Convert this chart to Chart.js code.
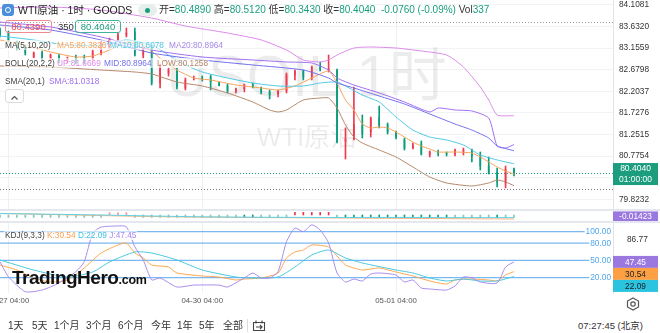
<!DOCTYPE html>
<html>
<head>
<meta charset="utf-8">
<title>WTI原油 · 1时</title>
<script src="https://cdn.jsdelivr.net/npm/chart.js@4.4.1/dist/chart.umd.min.js"></script>
<style>
  body { margin:0; width:660px; height:333px; overflow:hidden; background:#fff; position:relative;
         font-family:"Liberation Sans", Arial, "Noto Sans CJK SC", sans-serif; color:#333; }
  canvas { position:absolute; left:0; }
  .t { position:absolute; white-space:nowrap; line-height:12px; }
  .g { color:#1a9e7e; }
  .lg { position:absolute; white-space:nowrap; font-size:8.3px; line-height:10px; background:rgba(255,255,255,.6); padding:0 1px; }
  .band { position:absolute; left:0; width:660px; height:2px; background:#e4e7ee; }
</style>
</head>
<body>
<canvas id="main" width="660" height="210" style="top:0"></canvas>
<canvas id="macd" width="660" height="10" style="top:211px"></canvas>
<canvas id="kdj" width="660" height="86" style="top:223px"></canvas>

<div class="band" style="top:209px"></div>
<div class="band" style="top:221px"></div>

<!-- header -->
<div style="position:absolute;left:2px;top:4px;width:12px;height:12px;border-radius:3px;background:#4b8fdc"></div>
<div style="position:absolute;left:5px;top:7px;width:4px;height:4px;border:1.5px solid #fff;border-radius:50%"></div>
<div class="t" style="left:18px;top:4px;font-size:10.5px;color:#222">WTI原油 · 1时 · GOODS</div>
<div style="position:absolute;left:138px;top:4px;width:19px;height:12px;border-radius:6px;background:#e6efec"></div>
<div style="position:absolute;left:145px;top:7.5px;width:5px;height:5px;border-radius:50%;background:#1a9e7e"></div>
<div class="t" style="left:159px;top:4px;font-size:10px">开=<span class="g">80.4890</span> 高=<span class="g">80.5120</span> 低=<span class="g">80.3430</span> 收=<span class="g">80.4040</span>&nbsp; <span class="g">-0.0760 (-0.09%)</span> Vol<span class="g">337</span></div>

<div class="t" style="left:5px;top:20px;width:45px;height:11px;line-height:11px;border:1px solid #f28b91;border-radius:3px;color:#ef4a55;font-size:9.5px;text-align:center">80.4390</div>
<div class="t" style="left:58px;top:20px;font-size:9.5px;line-height:13px">350</div>
<div class="t" style="left:75px;top:20px;width:44px;height:11px;line-height:11px;border:1px solid #3fb39b;border-radius:3px;color:#1a9e7e;font-size:9.5px;text-align:center">80.4040</div>

<div class="lg" style="left:4px;top:39.5px;color:#444">MA(5,10,20)</div>
<div class="lg" style="left:56px;top:39.5px;color:#f5a35a">MA5:80.3826</div>
<div class="lg" style="left:109px;top:39.5px;color:#4fc8e3">MA10:80.6078</div>
<div class="lg" style="left:168px;top:39.5px;color:#a58be8">MA20:80.8964</div>
<div class="lg" style="left:4px;top:58px;color:#444">BOLL(20,2,2)</div>
<div class="lg" style="left:56px;top:58px;color:#dc8ae8">UP:81.6669</div>
<div class="lg" style="left:103px;top:58px;color:#7470ef">MID:80.8964</div>
<div class="lg" style="left:156px;top:58px;color:#b5876a">LOW:80.1258</div>
<div class="lg" style="left:4px;top:75.5px;color:#444">SMA(20,1)</div>
<div class="lg" style="left:48px;top:75.5px;color:#a06ef2">SMA:81.0318</div>

<div style="position:absolute;left:5px;top:89px;width:17px;height:12px;border:1px solid #dcdcdc;border-radius:3px;background:#fff">
  <svg width="17" height="12"><polyline points="5.5,7.5 8.5,4.5 11.5,7.5" fill="none" stroke="#555" stroke-width="1.2"/></svg>
</div>

<!-- logo -->
<div class="t" style="left:12px;top:268px;font-size:19px;line-height:19px;font-weight:bold;letter-spacing:-0.5px;color:#111">TradingHero<span style="font-size:12.5px;letter-spacing:-0.2px">.com</span></div>

<!-- bottom toolbar -->
<div class="t" style="left:8px;top:320px;font-size:10px">1天</div>
<div class="t" style="left:32px;top:320px;font-size:10px">5天</div>
<div class="t" style="left:54px;top:320px;font-size:10px">1个月</div>
<div class="t" style="left:86px;top:320px;font-size:10px">3个月</div>
<div class="t" style="left:118px;top:320px;font-size:10px">6个月</div>
<div class="t" style="left:151px;top:320px;font-size:10px">今年</div>
<div class="t" style="left:177px;top:320px;font-size:10px">1年</div>
<div class="t" style="left:199px;top:320px;font-size:10px">5年</div>
<div class="t" style="left:223px;top:320px;font-size:10px">全部</div>
<div style="position:absolute;left:247px;top:319px;width:1px;height:13px;background:#ddd"></div>
<svg style="position:absolute;left:252px;top:319px" width="14" height="13">
  <path d="M1.5 3.5 H12.5 V11.5 H1.5 Z M4 1.5 V4.5 M10 1.5 V4.5 M4 8 H10 M8 6 L10 8 L8 10" fill="none" stroke="#444" stroke-width="1.1"/>
</svg>
<div class="t" style="left:578px;top:320px;font-size:9.5px">07:27:45 (北京)</div>
<svg style="position:absolute;left:626px;top:297px" width="14" height="14">
  <polygon points="7,1 12.5,4 12.5,10 7,13 1.5,10 1.5,4" fill="none" stroke="#555" stroke-width="1.2"/>
  <circle cx="7" cy="7" r="2.2" fill="none" stroke="#555" stroke-width="1.2"/>
</svg>

<script>
// ---------------- data ----------------
const open  = [83.557,83.491,83.270,83.182,82.962,83.050,82.918,82.984,82.874,82.962,
               82.962,82.940,83.050,83.204,83.337,83.447,83.513,83.006,83.182,82.389,
               82.609,82.675,82.279,82.477,82.499,82.521,82.389,82.323,82.213,82.257,
               82.345,82.279,82.191,82.147,82.213,82.565,82.653,82.499,82.741,82.675,
               82.675,81.110,81.154,81.463,81.309,81.617,81.463,81.287,81.132,80.956,
               81.044,80.802,80.868,80.846,80.824,80.890,80.912,80.802,80.559,80.427,
               80.185,80.489]
const high  = [83.601,83.535,83.314,83.226,83.072,83.094,83.028,83.028,82.962,83.006,
               83.006,83.116,83.314,83.381,83.491,83.601,83.601,83.182,83.226,82.808,
               82.719,82.719,82.499,82.543,82.543,82.565,82.411,82.367,82.279,82.367,
               82.389,82.301,82.235,82.235,82.609,82.675,82.675,82.764,82.852,83.006,
               82.697,81.400,82.301,81.684,81.639,81.882,81.507,81.331,81.176,81.066,
               81.110,80.890,80.912,80.868,80.934,80.956,80.934,80.868,80.758,80.515,
               80.559,80.512]
const low   = [83.403,83.292,83.116,83.006,82.940,82.874,82.874,82.830,82.830,82.808,
               82.808,82.896,83.006,83.160,83.292,83.403,82.984,82.940,82.345,82.279,
               82.543,82.257,82.235,82.455,82.433,82.235,82.323,82.169,82.169,82.191,
               82.279,82.147,82.036,82.081,82.169,82.455,82.455,82.455,82.653,82.631,
               81.066,80.714,81.132,81.176,81.198,81.397,81.265,81.154,80.912,80.934,
               80.802,80.758,80.780,80.780,80.780,80.802,80.648,80.471,80.383,80.097,
               80.075,80.343]
const close = [83.447,83.337,83.138,83.050,83.050,82.918,83.006,82.852,82.940,82.830,
               82.852,83.072,83.270,83.337,83.447,83.491,83.006,83.138,82.389,82.764,
               82.675,82.301,82.455,82.499,82.477,82.411,82.345,82.213,82.257,82.345,
               82.301,82.191,82.125,82.213,82.565,82.653,82.521,82.741,82.675,82.697,
               81.088,81.154,81.485,81.265,81.617,81.441,81.309,81.198,80.956,81.022,
               80.824,80.868,80.846,80.824,80.912,80.912,80.780,80.559,80.405,80.207,
               80.493,80.404]

// overlay lines, read at the candle index given in the *X array
const ma5X  = [0,3,6,9,11,13,15,17,19,21,23,25,28,31,33,35,37,39,40,41,42,43,44,45,46,47,48,49,50,51,52,54,56,57,58,59,60,61]
const ma5   = [83.337,83.226,83.072,82.962,82.984,83.116,83.292,83.226,82.940,82.675,82.499,82.455,82.345,82.279,82.235,82.323,82.499,82.653,82.389,82.014,81.794,81.485,81.397,81.419,81.397,81.309,81.198,81.088,80.999,80.934,80.868,80.868,80.846,80.758,80.648,80.537,80.449,80.383]
const ma10X = [0,4,8,12,15,18,20,22,24,27,30,33,36,38,40,41,43,45,47,49,51,53,55,57,59,61]
const ma10  = [83.425,83.337,83.226,83.226,83.337,83.226,83.006,82.786,82.631,82.499,82.389,82.323,82.323,82.389,82.411,82.323,82.124,81.970,81.639,81.353,81.198,81.132,81.022,80.802,80.692,80.608]
const midX  = [0,6,12,18,24,30,36,39,40,42,45,48,51,54,56,58,59,61]
const mid   = [83.667,83.557,83.337,83.050,82.896,82.786,82.675,82.499,82.389,82.279,82.102,81.926,81.706,81.485,81.353,81.176,81.000,80.896]
const upX   = [0,6,12,18,22,27,31,34,36,38,39,40,42,44,47,50,53,55,57,58,59,61]
const up    = [84.042,84.064,83.998,83.821,83.645,83.491,83.337,83.116,82.896,82.852,82.896,83.006,83.160,83.182,83.160,83.094,83.006,82.741,82.301,82.014,81.684,81.667]
const lowX  = [0,6,12,16,18,21,24,27,30,32,33,34,36,38,39,40,41,42,43,45,47,49,51,53,56,58,59,60,61]
const lowB  = [82.764,82.741,82.675,82.631,82.587,82.411,82.323,82.169,81.970,81.794,81.750,81.794,82.014,82.058,82.058,81.838,81.463,81.198,81.066,80.912,80.758,80.537,80.317,80.185,80.119,80.185,80.251,80.207,80.126]
const smaX  = [0,6,12,18,24,30,34,37,39,40,42,45,48,51,52,54,56,58,59,60,61]
const sma   = [83.733,83.623,83.403,83.116,82.962,82.896,82.852,82.830,82.675,82.499,82.345,82.169,81.970,81.750,81.838,81.794,81.772,81.617,81.000,80.956,81.032]

const priceTicks = [84.1081,83.6320,83.1559,82.6798,82.2037,81.7276,81.2515,80.7754,80.2993,79.8232]
const dotHigh = 83.733
const dotLow = 80.052

// MACD strip
const macdHist = [-0.024,-0.024,-0.024,-0.024,-0.024,-0.024,-0.024,-0.024,-0.024,-0.024,
                  -0.024,-0.024,-0.024,0.024,0.024,0.024,-0.024,-0.024,-0.024,-0.024,
                  -0.024,-0.024,-0.024,-0.024,-0.024,-0.024,-0.024,-0.024,-0.024,-0.026,
                  -0.026,-0.024,-0.024,-0.024,-0.024,0.026,0.026,0.026,0.026,0.026,
                  -0.024,-0.026,-0.026,-0.026,-0.026,-0.026,-0.026,-0.026,-0.026,-0.026,
                  -0.026,-0.026,-0.026,-0.026,-0.024,-0.024,-0.024,-0.024,-0.024,-0.026,
                  -0.024,-0.024]
const difX = [0,6,12,18,24,30,36,42,48,54,61]
const dif  = [0.015,0.008,0.0,-0.010,-0.018,-0.022,-0.024,-0.025,-0.025,-0.026,-0.026]
const deaX = [0,20,40,50,61]
const dea  = [0.015,-0.018,-0.030,-0.035,-0.040]
const macdLast = -0.01423

// KDJ(9,3,3)
const kX = [0,2,4,6,8,10,12,14,15,16,17,18,20,21,24,26,28,29,31,33,34,35,36,37,39,40,41,43,45,47,49,51,53,54,56,58,59,60,61]
const kV = [42.1,33.4,19.5,12.5,16,36.9,63,76.9,80.3,63,54.3,42.1,38.6,28.2,23,21.2,16,17.7,19.5,28.2,54.3,64.7,68.2,76.9,73.4,57.7,42.1,33.4,36.9,29.9,23,14.3,9,16,17.7,16,14.3,24.7,30.54]
const dX = [0,4,8,11,13,16,18,21,24,28,30,33,35,37,39,41,43,47,49,51,53,55,57,59,61]
const dV = [50.8,33.4,21.2,29.9,47.3,64.7,63,50.8,33.4,21.2,19.5,21.2,38.6,59.5,68.2,54.3,45.6,33.4,28.2,19.5,14.3,17.7,14.3,14.3,22.09]
const jX = [0,1,3,5,7,9,10,11,12,14,15,16,17,18,19,21,23,26,27,29,30,31,32,33,34,35,36,37,38,39,40,41,42,43,44,45,47,48,49,50,51,53,54,55,56,57,59,60,61]
const jV = [47.8,21.7,-4.3,-1.4,10.8,30.4,47.8,97.7,108,110,108.7,73.9,50.8,16,19.5,3.8,7.1,7.1,3.8,19.5,28.2,19.5,19.5,30.4,82.6,106.4,100,112,103,80.3,28.2,12.5,17.7,14.3,26.4,28.2,24.7,12.5,16,2.1,0.4,-1.4,5.6,21.2,19.5,12.5,10.8,38.6,47.45]
const kdjLevels = [100, 80, 50, 20]
const kdjTicks = [86.77]

// time axis (candle index -> label)
const timeIdx = [1, 24, 47]
const timeLabels = ['04-27 04:00', '04-30 04:00', '05-01 04:00']

// ---------------- style ----------------
const UP_C = '#f0394d', DOWN_C = '#0b9b7c'
const FONT = '"Liberation Sans", Arial, "Noto Sans CJK SC", sans-serif'
const X_MAX = 72.75

const pts = (xs, ys) => xs.map((v, k) => ({ x: v, y: ys[k] }))
const idx = close.map((_, i) => i)
const candleColor = idx.map(i => close[i] >= open[i] ? UP_C : DOWN_C)

const line = (data, color, order = 0) => ({
    type: 'line', data, borderColor: color, borderWidth: 1, pointRadius: 0, tension: 0.2, order
})

const rightAxis = (min, max, ticks, fmt, showTicks = true) => ({
    type: 'linear', position: 'right', min, max,
    grid: { color: '#f2f3f5', drawTicks: false, display: showTicks },
    border: { color: '#e3e3e3' },
    ticks: { display: showTicks, padding: 6, crossAlign: 'near', color: '#333',
             font: { size: 8.3, family: FONT }, callback: fmt },
    afterBuildTicks: s => { s.ticks = ticks.map(v => ({ value: v })) },
    afterFit: s => { s.width = 47; s.paddingTop = 0; s.paddingBottom = 0 }
})

const xAxis = { type: 'linear', min: 0, max: X_MAX, display: false, offset: false }

const hline = (ctx, a, py, color, dash) => {
    ctx.strokeStyle = color
    ctx.setLineDash(dash)
    ctx.beginPath()
    ctx.moveTo(a.left, Math.round(py) + 0.5)
    ctx.lineTo(a.right, Math.round(py) + 0.5)
    ctx.stroke()
    ctx.setLineDash([])
}

/* -------------------------------- main price panel -------------------------------- */
const priceDecor = {
    id: 'priceDecor',
    beforeDatasetsDraw(c) {
        const { ctx, chartArea: a, scales: { x, y } } = c
        ctx.save()
        ctx.fillStyle = 'rgba(0,0,0,0.075)'
        ctx.textAlign = 'center'
        ctx.textBaseline = 'middle'
        ctx.font = '58px ' + FONT
        ctx.fillText('USOIL 1时', (a.left + a.right) / 2, 80)
        ctx.font = '26px ' + FONT
        ctx.fillText('WTI原油', (a.left + a.right) / 2, 139)

        ctx.strokeStyle = '#f0f0f0'
        ctx.lineWidth = 1
        timeIdx.forEach(v => {
            const px = Math.round(x.getPixelForValue(v)) + 0.5
            ctx.beginPath(); ctx.moveTo(px, a.top); ctx.lineTo(px, a.bottom); ctx.stroke()
        })
        hline(ctx, a, y.getPixelForValue(dotHigh), '#9a9a9a', [1, 2])
        hline(ctx, a, y.getPixelForValue(dotLow), '#777', [1, 2])
        hline(ctx, a, y.getPixelForValue(close[close.length - 1]), '#1b9d7e', [1, 2])
        ctx.restore()
    },
    afterDraw(c) {
        const { ctx, chartArea: a, scales: { y } } = c
        const py = y.getPixelForValue(close[close.length - 1])
        ctx.save()
        ctx.fillStyle = '#1b9d7e'
        ctx.fillRect(a.right, py - 10, 45, 22)
        ctx.fillStyle = '#fff'
        ctx.textAlign = 'center'
        ctx.textBaseline = 'middle'
        ctx.font = '8.5px ' + FONT
        ctx.fillText(close[close.length - 1].toFixed(4), a.right + 22.5, py - 4.5)
        ctx.fillText('01:00:00', a.right + 22.5, py + 6.5)
        ctx.restore()
    }
}

new Chart(document.getElementById('main'), {
    type: 'bar',
    data: {
        datasets: [
            line(pts(upX, up), '#dc8ae8'),
            line(pts(lowX, lowB), '#b5876a'),
            line(pts(midX, mid), '#7470ef'),
            line(pts(smaX, sma), '#a06ef2'),
            line(pts(ma10X, ma10), '#4fc8e3'),
            line(pts(ma5X, ma5), '#f5a35a'),
            { type: 'bar', order: 1, data: idx.map(i => ({ x: i, y: [open[i], close[i]] })),
              backgroundColor: candleColor, grouped: false, barThickness: 1, maxBarThickness: 6, minBarLength: 1 },
            { type: 'bar', order: 2, data: idx.map(i => ({ x: i, y: [low[i], high[i]] })),
              backgroundColor: candleColor, grouped: false, barThickness: 1, maxBarThickness: 1 }
        ]
    },
    options: {
        responsive: false, animation: false, events: [],
        layout: { padding: 0 },
        plugins: { legend: { display: false }, tooltip: { enabled: false } },
        scales: {
            x: xAxis,
            y: rightAxis(79.5895, 84.2183, priceTicks, v => Number(v).toFixed(4))
        }
    },
    plugins: [priceDecor]
})

/* -------------------------------- MACD strip -------------------------------- */
const macdDecor = {
    id: 'macdDecor',
    afterDraw(c) {
        const { ctx, chartArea: a, scales: { y } } = c
        const py = y.getPixelForValue(macdLast)
        ctx.save()
        ctx.fillStyle = '#9a78df'
        ctx.fillRect(a.right, py - 5, 45, 10)
        ctx.fillStyle = '#fff'
        ctx.textAlign = 'center'
        ctx.textBaseline = 'middle'
        ctx.font = '8.3px ' + FONT
        ctx.fillText(macdLast.toFixed(5), a.right + 22.5, py + 0.5)
        ctx.restore()
    }
}

new Chart(document.getElementById('macd'), {
    type: 'bar',
    data: {
        datasets: [
            line(pts(difX, dif), '#5fd0e6'),
            line(pts(deaX, dea), '#f9b27a'),
            { type: 'bar', order: 1, data: idx.map(i => ({ x: i, y: [0, macdHist[i]] })),
              backgroundColor: macdHist.map(v => v > 0 ? (v >= 0.025 ? '#ee3048' : '#f59aa3') : (v <= -0.025 ? '#0b9b7c' : '#7fcab9')),
              grouped: false, barThickness: 1, maxBarThickness: 6 }
        ]
    },
    options: {
        responsive: false, animation: false, events: [],
        layout: { padding: 0 },
        plugins: { legend: { display: false }, tooltip: { enabled: false } },
        scales: { x: xAxis, y: rightAxis(-0.06, 0.04, [], v => v, false) }
    },
    plugins: [macdDecor]
})

/* -------------------------------- KDJ panel -------------------------------- */
const kdjDecor = {
    id: 'kdjDecor',
    beforeDatasetsDraw(c) {
        const { ctx, chartArea: a, scales: { x, y } } = c
        ctx.save()
        ctx.strokeStyle = '#f0f0f0'
        ctx.lineWidth = 1
        timeIdx.forEach(v => {
            const px = Math.round(x.getPixelForValue(v)) + 0.5
            ctx.beginPath(); ctx.moveTo(px, a.top); ctx.lineTo(px, a.bottom); ctx.stroke()
        })
        ctx.font = '8.3px ' + FONT
        ctx.textAlign = 'right'
        ctx.textBaseline = 'middle'
        kdjLevels.forEach(v => {
            const py = y.getPixelForValue(v)
            const label = v.toFixed(2)
            const w = ctx.measureText(label).width
            ctx.strokeStyle = '#7ab8f0'
            ctx.lineWidth = 1.3
            ctx.beginPath(); ctx.moveTo(a.left, py); ctx.lineTo(a.right - 3 - w, py); ctx.stroke()
            ctx.fillStyle = '#4ea7ee'
            ctx.fillText(label, a.right - 2, py + 0.5)
        })
        ctx.restore()
    },
    afterDraw(c) {
        const { ctx, chartArea: a, scales: { x, y } } = c
        ctx.save()
        ctx.font = '8.3px ' + FONT
        ctx.textAlign = 'center'
        ctx.textBaseline = 'middle'
        // last-value boxes, stacked so they do not overlap
        const boxes = [
            { v: jV[jV.length - 1], bg: '#9a78df', fg: '#fff' },
            { v: kV[kV.length - 1], bg: '#fca043', fg: '#222' },
            { v: dV[dV.length - 1], bg: '#2ac4e0', fg: '#222' }
        ].map(b => ({ ...b, py: y.getPixelForValue(b.v) })).sort((p, q) => p.py - q.py)
        let prev = -99
        boxes.forEach(b => {
            const cy = Math.max(b.py, prev + 12)
            ctx.fillStyle = b.bg
            ctx.fillRect(a.right, cy - 6, 45, 12)
            ctx.fillStyle = b.fg
            ctx.fillText(b.v.toFixed(2), a.right + 22.5, cy + 0.5)
            prev = cy
        })
        // time labels
        ctx.fillStyle = '#555'
        ctx.font = '7.8px ' + FONT
        timeIdx.forEach((v, k) => ctx.fillText(timeLabels[k], x.getPixelForValue(v), a.bottom + 7.5))
        ctx.restore()
    }
}

new Chart(document.getElementById('kdj'), {
    type: 'line',
    data: {
        datasets: [
            line(pts(jX, jV), '#a98bee'),
            line(pts(dX, dV), '#48c9e0'),
            line(pts(kX, kV), '#ffa64d')
        ]
    },
    options: {
        responsive: false, animation: false, events: [],
        layout: { padding: { bottom: 16 } },
        plugins: { legend: { display: false }, tooltip: { enabled: false } },
        scales: {
            x: xAxis,
            y: { ...rightAxis(-6.61, 115.13, kdjTicks, v => Number(v).toFixed(2)), grid: { display: false } }
        }
    },
    plugins: [kdjDecor]
})
</script>

<div class="lg" style="left:4px;top:230px;font-size:8.3px;color:#444">KDJ(9,3,3) <span style="color:#f9a04a">K:30.54</span> <span style="color:#3fc0dc">D:22.09</span> <span style="color:#a98bee">J:47.45</span></div>
</body>
</html>
